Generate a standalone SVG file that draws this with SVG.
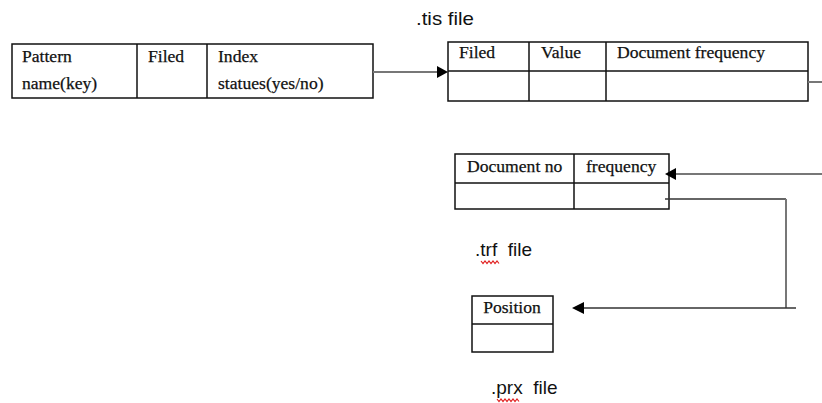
<svg xmlns="http://www.w3.org/2000/svg" width="822" height="403" viewBox="0 0 822 403">
<style>
.box{fill:#fff;stroke:#111;stroke-width:1.5}
.t{font-family:"Liberation Serif",serif;font-size:17.6px;fill:#111;stroke:#111;stroke-width:0.25}
.lbl{font-family:"Liberation Sans",sans-serif;font-size:19px;fill:#111}
.ln{fill:none;stroke:#333;stroke-width:1.5}
.gl{fill:none;stroke:#777;stroke-width:2}
.sq{fill:none;stroke:#e02020;stroke-width:1.2}
</style>
<rect width="822" height="403" fill="#fff"/>
<g id="pattern-table">
<rect class="box" x="12" y="44" width="361" height="54"/>
<line class="box" x1="137" y1="44" x2="137" y2="98"/>
<line class="box" x1="207" y1="44" x2="207" y2="98"/>
<text class="t" x="22" y="62">Pattern</text>
<text class="t" x="22" y="89">name(key)</text>
<text class="t" x="148" y="62">Filed</text>
<text class="t" x="218" y="62">Index</text>
<text class="t" x="218" y="89">statues(yes/no)</text>
</g>
<g id="tis-file">
<text class="lbl" x="416" y="25" textLength="58" lengthAdjust="spacingAndGlyphs">.tis file</text>
<rect class="box" x="448" y="42" width="360" height="59"/>
<line class="box" x1="448" y1="71" x2="808" y2="71"/>
<line class="box" x1="529" y1="42" x2="529" y2="101"/>
<line class="box" x1="606" y1="42" x2="606" y2="101"/>
<text class="t" x="459" y="58">Filed</text>
<text class="t" x="541" y="58">Value</text>
<text class="t" x="617" y="58">Document frequency</text>
</g>
<g id="trf-file">
<rect class="box" x="455" y="154" width="214" height="55"/>
<line class="box" x1="455" y1="183" x2="669" y2="183"/>
<line class="box" x1="574" y1="154" x2="574" y2="209"/>
<text class="t" x="467" y="172">Document no</text>
<text class="t" x="586" y="172">frequency</text>
<text class="lbl" x="475" y="256" xml:space="preserve">.trf  file</text>
<path class="sq" d="M481,261 l2,2.5 l2,-2.5 l2,2.5 l2,-2.5 l2,2.5 l2,-2.5 l2,2.5 l2,-2.5 l2,2.5"/>
</g>
<g id="prx-file">
<rect class="box" x="472" y="296" width="81" height="56"/>
<line class="box" x1="472" y1="324" x2="553" y2="324"/>
<text class="t" x="512" y="313" text-anchor="middle">Position</text>
<text class="lbl" x="491" y="394" xml:space="preserve">.prx  file</text>
<path class="sq" d="M497,399 l2,2.5 l2,-2.5 l2,2.5 l2,-2.5 l2,2.5 l2,-2.5 l2,2.5 l2,-2.5 l2,2.5 l2,-2.5 l2,2.5"/>
</g>
<g id="connectors">
<line class="gl" x1="373" y1="72" x2="437" y2="72"/>
<path d="M437,66 L448,72 L437,78 z" fill="#000"/>
<line class="gl" x1="808" y1="82" x2="822" y2="82"/>
<line class="gl" x1="822" y1="174" x2="676" y2="174"/>
<path d="M676,168 L665,174 L676,180 z" fill="#000"/>
<polyline class="ln" points="665,199 786,199"/>
<line class="gl" x1="786" y1="199" x2="786" y2="308"/>
<line class="ln" x1="796" y1="308" x2="584" y2="308"/>
<path d="M584,302 L572,308 L584,314 z" fill="#000"/>
</g>
</svg>
